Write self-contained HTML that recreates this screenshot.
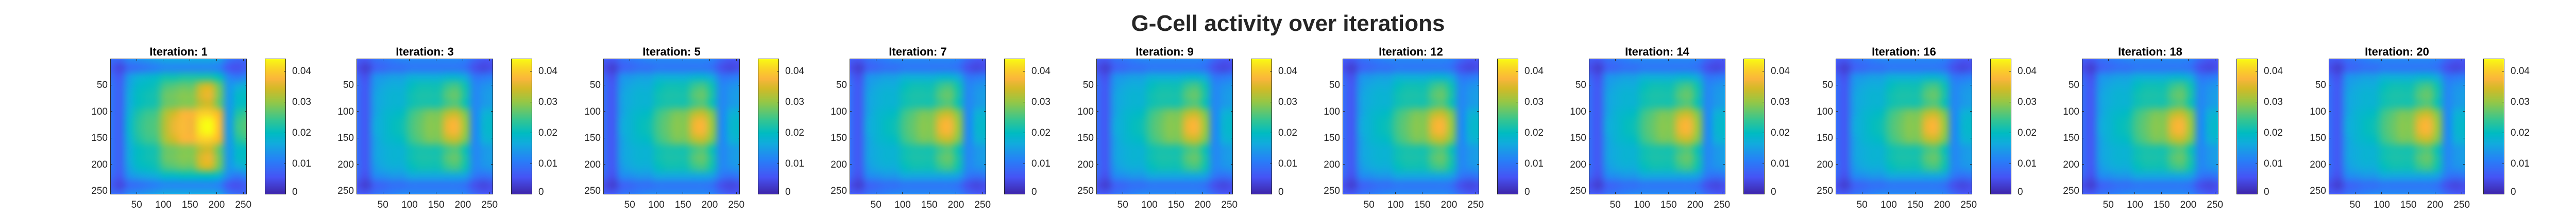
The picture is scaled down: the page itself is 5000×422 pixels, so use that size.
<!DOCTYPE html>
<html><head><meta charset="utf-8">
<style>
html,body{margin:0;padding:0;background:#fff;}
#root{position:relative;width:5000px;height:422px;overflow:hidden;font-family:"Liberation Sans",Arial,sans-serif;color:#262626;}
.abs{position:absolute;}
.tl{position:absolute;font-size:19px;white-space:nowrap;line-height:1;}
.pt{position:absolute;font-size:22px;font-weight:bold;white-space:nowrap;color:#000;transform:translateX(-50%);line-height:1;}
.box{position:absolute;border:1px solid #262626;box-sizing:border-box;pointer-events:none;}
.tick{position:absolute;background:#262626;}
</style></head>
<body>
<div id="root">
<div class="abs" style="left:0;width:5000px;top:24px;text-align:center;font-size:44px;font-weight:bold;line-height:44px;">G-Cell activity over iterations</div>
</div>
<script>
const iterations=[1,3,5,7,9,12,14,16,18,20];
const panelGrid=[0,1,1,1,1,1,1,1,1,1];
const xTicks=[50,100,150,200,250];
const yTicks=[50,100,150,200,250];
const cbTicks=[0,0.01,0.02,0.03,0.04];
const cbTickLabels=["0","0.01","0.02","0.03","0.04"];
const cMax=0.044;
const gridIter1=[
[9,8,12,13,14,15,16,16,16,16,16,16,15,10,8,8],
[7,4,8,9,10,11,12,12,12,12,12,12,11,6,5,7],
[9,6,14,17,18,19,21,21,22,22,22,22,20,12,10,12],
[10,7,15,19,20,21,25,26,27,27,33,34,27,14,16,18],
[10,7,16,20,21,22,27,28,29,29,35,36,28,14,19,20],
[10,7,16,20,21,22,27,28,29,29,33,34,27,14,19,20],
[10,7,17,22,24,25,31,34,37,37,40,40,36,14,22,24],
[10,7,18,23,25,26,32,36,38,37,43,44,38,14,24,26],
[10,7,18,23,25,26,32,36,38,37,43,44,38,14,24,26],
[10,7,17,22,24,25,31,34,37,37,40,40,36,14,22,24],
[10,7,16,20,21,22,27,28,29,29,33,34,27,14,19,20],
[10,7,16,20,21,22,27,28,29,29,35,36,28,14,19,20],
[10,7,15,19,20,21,25,26,27,27,33,34,27,14,16,18],
[9,6,13,15,16,17,19,19,20,20,20,20,18,12,10,12],
[7,4,8,9,10,11,12,12,12,12,12,12,11,6,5,7],
[9,8,12,13,14,15,16,16,16,16,16,16,15,10,8,8]];
const gridLater=[
[7,6,9,10,11,12,12,12,12,12,12,12,11,8,6,6],
[5,3,7,8,9,9,10,10,10,10,10,10,9,5,4,5],
[8,5,13,14,15,15,17,17,17,17,18,18,16,10,10,11],
[9,6,14,16,17,17,20,21,21,21,24,25,21,12,13,14],
[9,6,15,17,18,18,21,22,22,22,26,27,22,12,14,15],
[9,6,15,17,18,18,21,22,22,22,25,26,21,12,14,15],
[9,6,15,18,19,20,24,26,28,28,32,33,28,12,17,18],
[9,6,16,18,20,21,25,27,29,29,36,37,30,12,18,19],
[9,6,16,18,20,21,25,27,29,29,36,37,30,12,18,19],
[9,6,15,18,19,20,24,26,28,28,32,33,28,12,17,18],
[9,6,15,17,18,18,21,22,22,22,25,26,21,12,14,15],
[9,6,15,17,18,18,21,22,22,22,26,27,22,12,14,15],
[9,6,14,16,17,17,20,21,21,21,24,25,21,12,13,14],
[8,5,12,13,14,14,16,16,16,16,16,16,15,10,9,10],
[5,3,7,8,9,9,10,10,10,10,10,10,9,5,4,5],
[7,6,9,10,11,12,12,12,12,12,12,12,11,8,6,6]];
const grids=[gridIter1,gridLater];

const cmap=[[0,62,38,168],[0.125,71,84,245],[0.25,40,128,248],[0.375,18,172,222],[0.45,0,188,195],[0.55,55,198,145],[0.68,150,200,70],[0.78,212,186,40],[0.85,250,182,60],[0.92,250,210,40],[1,249,251,20]];
function color(t){t=Math.max(0,Math.min(1,t));for(let i=1;i<cmap.length;i++){if(t<=cmap[i][0]){const a=cmap[i-1],b=cmap[i],f=(t-a[0])/(b[0]-a[0]);return [a[1]+f*(b[1]-a[1]),a[2]+f*(b[2]-a[2]),a[3]+f*(b[3]-a[3])];}}return cmap[cmap.length-1].slice(1);}

const root=document.getElementById('root');
const AX_W=265,AX_H=264,AX_T=114,P0=214,STEP=478.4,CB_OFF=300,CB_W=41;
function xs(d){return (d-0.5)*AX_W/256;}
function ys(d){return (d-0.5)*AX_H/256;}
function cbY(v){return AX_T+AX_H-v/cMax*AX_H;}
function mk(tag,cls,style){const e=document.createElement(tag);if(cls)e.className=cls;if(style)e.style.cssText=style;root.appendChild(e);return e;}

iterations.forEach((it,p)=>{
  const L=Math.round(P0+p*STEP);
  const g=grids[panelGrid[p]];
  const n=g.length;
  // heatmap
  const src=document.createElement('canvas');src.width=n;src.height=n;
  const sctx=src.getContext('2d');const im=sctx.createImageData(n,n);
  for(let r=0;r<n;r++)for(let c=0;c<n;c++){const col=color(g[r][c]/1000/cMax);const k=(r*n+c)*4;im.data[k]=col[0];im.data[k+1]=col[1];im.data[k+2]=col[2];im.data[k+3]=255;}
  sctx.putImageData(im,0,0);
  const cv=mk('canvas','abs',`left:${L}px;top:${AX_T}px;`);
  cv.width=AX_W;cv.height=AX_H;
  
  
  const ctx=cv.getContext('2d');ctx.imageSmoothingEnabled=true;ctx.imageSmoothingQuality='high';
  ctx.drawImage(src,-AX_W/n/2,-AX_H/n/2,AX_W*(n+1)/n,AX_H*(n+1)/n);
  // box
  const bx=mk('div','box',`left:${L}px;top:${AX_T}px;width:${AX_W}px;height:${AX_H}px;`);
  
  
  // title
  const t=mk('div','pt',`left:${L+AX_W/2}px;top:${AX_T-24}px;`);t.textContent='Iteration: '+it;
  
  
  // x ticks
  xTicks.forEach(v=>{const x=L+xs(v);
    mk('div','tick',`left:${x-0.5}px;top:${AX_T+AX_H-4}px;width:1px;height:3px;`);
    mk('div','tick',`left:${x-0.5}px;top:${AX_T+1}px;width:1px;height:3px;`);
    const lb=mk('div','tl',`left:${x}px;top:${AX_T+AX_H+11}px;transform:translateX(-50%);`);lb.textContent=v;
    
    
  });
  yTicks.forEach(v=>{const y=AX_T+ys(v);
    mk('div','tick',`left:${L+1}px;top:${y-0.5}px;width:3px;height:1px;`);
    mk('div','tick',`left:${L+AX_W-4}px;top:${y-0.5}px;width:3px;height:1px;`);
    const lb=mk('div','tl',`right:${5000-L+5}px;top:${y-9}px;`);lb.textContent=v;
    
    
  });
  // colorbar
  const CL=L+CB_OFF;
  const cb=mk('canvas','abs',`left:${CL}px;top:${AX_T}px;`);cb.width=CB_W;cb.height=AX_H;
  
  
  const cc=cb.getContext('2d');
  for(let y=0;y<AX_H;y++){const col=color(1-(y+0.5)/AX_H);cc.fillStyle=`rgb(${col[0]|0},${col[1]|0},${col[2]|0})`;cc.fillRect(0,y,CB_W,1);}
  const cbb=mk('div','box',`left:${CL}px;top:${AX_T}px;width:${CB_W}px;height:${AX_H}px;`);
  
  
  cbTicks.forEach((v,i)=>{const y=cbY(v);
    if(v>0)mk('div','tick',`left:${CL+CB_W-4}px;top:${y-0.5}px;width:3px;height:1px;`);
    const lb=mk('div','tl',`left:${CL+CB_W+12}px;top:${Math.min(y,AX_T+AX_H-2)-(v>0?9:12)}px;`);lb.textContent=cbTickLabels[i];
    
    
  });
});
</script>
</body></html>
